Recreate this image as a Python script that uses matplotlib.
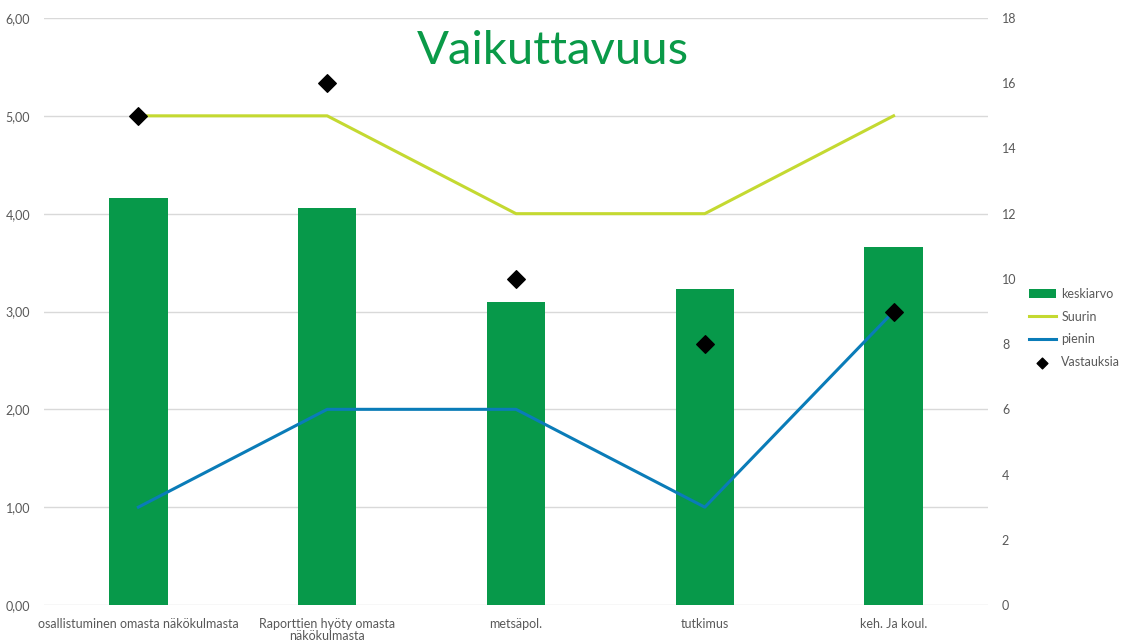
import matplotlib
matplotlib.use("Agg")
import matplotlib.pyplot as plt
import numpy as np
from matplotlib.ticker import FuncFormatter

categories = ["osallistuminen omasta näkökulmasta", "Raporttien hyöty omasta\nnäkökulmasta",
              "metsäpol.", "tutkimus", "keh. Ja koul."]
keskiarvo = [4.16, 4.06, 3.10, 3.23, 3.66]
suurin = [5, 5, 4, 4, 5]
pienin = [1, 2, 2, 1, 3]
vastauksia = [15, 16, 10, 8, 9]

plt.rcParams['font.family'] = ['Lato', 'DejaVu Sans']

fig = plt.figure(figsize=(11.29, 6.41), dpi=100)
ax = fig.add_axes([44/1129, 36/641, 944/1129, 587/641])
ax2 = ax.twinx()

x = np.arange(len(categories))
bars = ax.bar(x, keskiarvo, width=0.31, color="#07994A", label="keskiarvo", zorder=2)
l1, = ax.plot(x, suurin, color="#C4D931", lw=2.2, label="Suurin", zorder=3)
l2, = ax.plot(x, pienin, color="#0A7CB8", lw=2.2, label="pienin", zorder=3)
sc = ax2.scatter(x, vastauksia, marker="D", s=80, color="black", label="Vastauksia", zorder=4)

ax.set_xlim(-0.5, len(categories) - 0.5)
ax.set_ylim(0, 6)
ax2.set_ylim(0, 18)
ax.set_yticks(np.arange(0, 7, 1))
ax2.set_yticks(np.arange(0, 19, 2))
ax.yaxis.set_major_formatter(FuncFormatter(lambda v, p: f"{v:.2f}".replace(".", ",")))
ax.set_xticks(x)
ax.set_xticklabels(categories, linespacing=1.05)
ax.grid(axis="y", color="#D9D9D9", lw=1.0, zorder=0)
ax.set_axisbelow(True)
for a in (ax, ax2):
    for s in a.spines.values():
        s.set_visible(False)
    a.tick_params(length=0, colors="#595959", labelsize=9)
ax.tick_params(axis="y", pad=10)
ax2.tick_params(axis="y", pad=10)
ax.tick_params(axis="x", pad=9)
ax2.set_zorder(ax.get_zorder() + 1)
ax2.patch.set_visible(False)

fig.text(553/1129, 1 - 51/641, "Vaikuttavuus", color="#0A9A48", fontsize=34,
         ha="center", va="center")

leg = fig.legend([bars, l1, l2, sc], ["keskiarvo", "Suurin", "pienin", "Vastauksia"],
                 loc="center left", bbox_to_anchor=(1018/1129, 1 - 328/641),
                 frameon=False, fontsize=9, labelcolor="#595959",
                 handlelength=2.1, labelspacing=0.85, handletextpad=0.45)
for h in leg.legend_handles:
    try:
        h.set_sizes([30])
    except Exception:
        pass

fig.savefig("out.png", dpi=100)
